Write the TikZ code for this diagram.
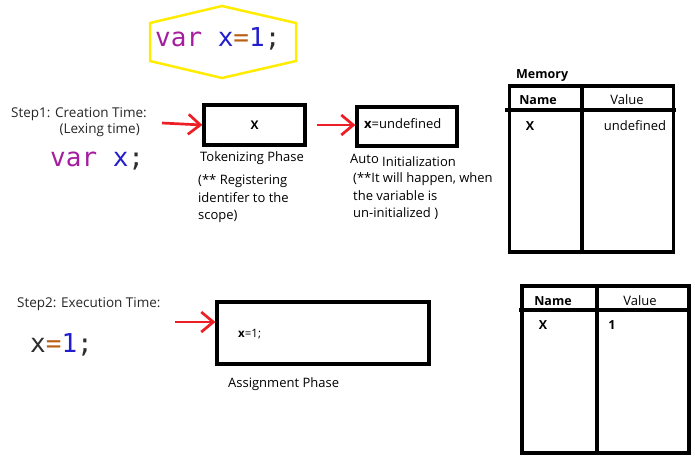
\documentclass[tikz,border=0pt]{standalone}
\usepackage{fontspec}
\setmainfont{Open Sans}
\newfontfamily\codefont{DejaVu Sans Mono}
\usetikzlibrary{arrows.meta}
\usetikzlibrary{positioning}
\definecolor{code-purple}{RGB}{165, 30, 160}
\definecolor{code-blue}{RGB}{35, 30, 205}
\definecolor{code-brown}{RGB}{185, 95, 20}
\definecolor{code-dark}{RGB}{45, 45, 45}
\definecolor{hex-yellow}{RGB}{255, 236, 0}
\definecolor{arrow-red}{RGB}{236, 31, 38}

\tikzset{
  code/.style={font=\codefont\fontsize{26}{30}\selectfont, inner sep=0pt},
  txt/.style={font=\fontsize{13}{17.5}\selectfont, inner sep=0pt, align=left},
  steptxt/.style={font=\fontsize{13.5}{16}\selectfont, text=black!85, inner sep=0pt},
  boldtxt/.style={font=\fontsize{12.5}{16}\selectfont\bfseries, inner sep=0pt},
  phase/.style={draw=black, line width=3.2pt, inner sep=0pt},
  memtable/.style={draw=black, line width=3.5pt, inner sep=0pt},
  redarrow/.style={draw=arrow-red, line width=2.7pt,
    -{Straight Barb[length=12pt, width=20pt, line width=2.7pt]}},
}

\begin{document}
\begin{tikzpicture}[x=1pt, y=-1pt]
\useasboundingbox (0,0) rectangle (695,466);

% declaration
\draw[hex-yellow, line width=2.5pt] (150,23) -- (222,6) -- (296,23) -- (296,61) -- (222,78) -- (150,61) -- cycle;
\node[code, anchor=west] (decl) at (155,39) {\textcolor{code-purple}{var} \textcolor{code-blue}{x}\textcolor{code-brown}{=}\textcolor{code-blue}{1}\textcolor{code-dark}{;}};

% step 1
\node[steptxt, align=right, anchor=base east] (step1) at (147,133.5) {Step1: Creation Time:\\(Lexing time)\hspace*{7pt}};
\node[code, anchor=west] (vardecl) at (50,161) {\textcolor{code-purple}{var} \textcolor{code-blue}{x}\textcolor{code-dark}{;}};
\coordinate (in1) at (162,123);
\node[phase, minimum width=101pt, minimum height=40pt] (token) at (254.5,125) {\fontsize{12}{12}\selectfont\bfseries X};
\node[phase, minimum width=100pt, minimum height=39pt] (autoinit) at (407,126.5) {};
\node[txt, anchor=west] (undef) at (364,124) {\textbf{x}=undefined};
\draw[redarrow] (in1) -- (token.west);
\draw[redarrow] (token.east) ++(10pt,0) coordinate (out1) -- (autoinit.west |- out1);
\node[txt, anchor=base west] (tokenlbl) at (200,161.5) {Tokenizing Phase};
\node[txt, anchor=base west] (tokennote) at (198,219.5) {(** Registering\\identifer to the\\scope)};
\node[txt, anchor=base west] (autolbl) at (350,166) {\raisebox{2.5pt}{Auto} Initialization};
\node[txt, anchor=base west] (autonote) at (353,217.5) {(**It will happen, when\\the variable is\\un-initialized )};

% memory after step 1
\node[boldtxt, anchor=base west] (memlbl) at (516,78.5) {Memory};
\node[memtable, minimum width=164pt, minimum height=166pt] (mem1) at (591.5,169) {};
\draw[line width=3.5pt] (505,110) -- (676,110);
\draw[line width=3.5pt] (582,86) -- (582,252);
\node[boldtxt] (name1) at (538,100) {Name};
\node[txt] (value1) at (627,100) {Value};
\node[boldtxt] (x1) at (530,126) {X};
\node[txt] (val1) at (635,126) {undefined};

% step 2
\node[steptxt, anchor=base west] (step2) at (17,307.5) {Step2: Execution Time:};
\node[code, anchor=west] (assign) at (30,345) {\textcolor{code-dark}{x}\textcolor{code-brown}{=}\textcolor{code-blue}{1}\textcolor{code-dark}{;}};
\coordinate (in2) at (175,322);
\node[phase, minimum width=212pt, minimum height=62pt] (assignbox) at (323,333) {};
\node[txt, anchor=west, font=\fontsize{11.5}{12}\selectfont] (assigncode) at (238,334) {\textbf{x}=1;};
\draw[redarrow] (in2) -- (assignbox.west |- in2);
\node[txt, anchor=base west] (assignlbl) at (228,387.5) {Assignment Phase};

% memory after step 2
\node[memtable, minimum width=167pt, minimum height=167pt] (mem2) at (605.5,369.5) {};
\draw[line width=3.5pt] (519,310) -- (691,310);
\draw[line width=3.5pt] (597,286) -- (597,453);
\node[boldtxt] (name2) at (553,301) {Name};
\node[txt] (value2) at (640,301) {Value};
\node[boldtxt] (x2) at (543,325) {X};
\node[boldtxt] (val2) at (612,325) {1};
\end{tikzpicture}
\end{document}
